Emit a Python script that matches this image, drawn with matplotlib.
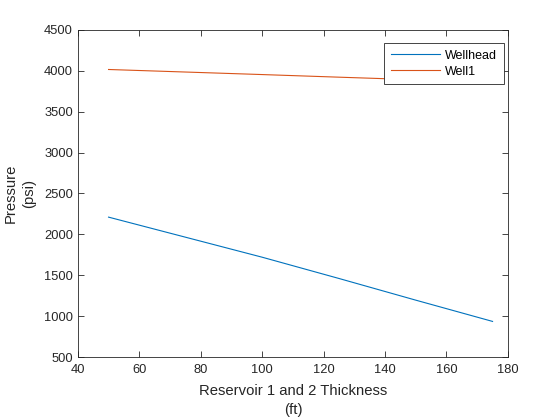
import matplotlib.pyplot as plt

plt.rcParams['font.family'] = ['Liberation Sans', 'DejaVu Sans']

# thickness (ft) and pressures (psi)
thickness = [50, 75, 100, 125, 150, 175]
wellhead = [2210, 1965, 1720, 1460, 1195, 935]
well1 = [4015, 3984, 3953, 3921, 3890, 3859]

x_ticks = [40, 60, 80, 100, 120, 140, 160, 180]
y_ticks = [500, 1000, 1500, 2000, 2500, 3000, 3500, 4000, 4500]

fig = plt.figure(figsize=(5.6, 4.2), dpi=100)
ax = fig.add_axes([0.139, 0.15, 0.768, 0.779])

ax.plot(thickness, wellhead, color='#0072BD', lw=0.8, label='Wellhead')
ax.plot(thickness, well1, color='#D95319', lw=0.8, label='Well1')

ax.set_xlim(40, 180)
ax.set_ylim(500, 4500)
ax.set_xticks(x_ticks)
ax.set_yticks(y_ticks)
ax.tick_params(direction='in', length=4, width=0.6, labelsize=9.3,
               colors='#262626', top=True, right=True)
ax.tick_params(axis='x', pad=5)
for s in ax.spines.values():
    s.set_linewidth(0.6)
    s.set_color('#262626')

ax.set_xlabel('Reservoir 1 and 2 Thickness\n(ft)', fontsize=10.7, color='#262626',
              labelpad=6, linespacing=1.4)
ax.set_ylabel('Pressure\n(psi)', fontsize=10.7, color='#262626', labelpad=6,
              linespacing=1.35)

leg = ax.legend(loc='upper right', bbox_to_anchor=(0.99, 0.96), fontsize=9,
                fancybox=False, framealpha=1, borderaxespad=0,
                handlelength=3.9, handletextpad=0.4, borderpad=0.55,
                labelspacing=0.3)
leg.get_frame().set_edgecolor('#262626')
leg.get_frame().set_linewidth(0.6)

fig.savefig('out.png', dpi=100)
